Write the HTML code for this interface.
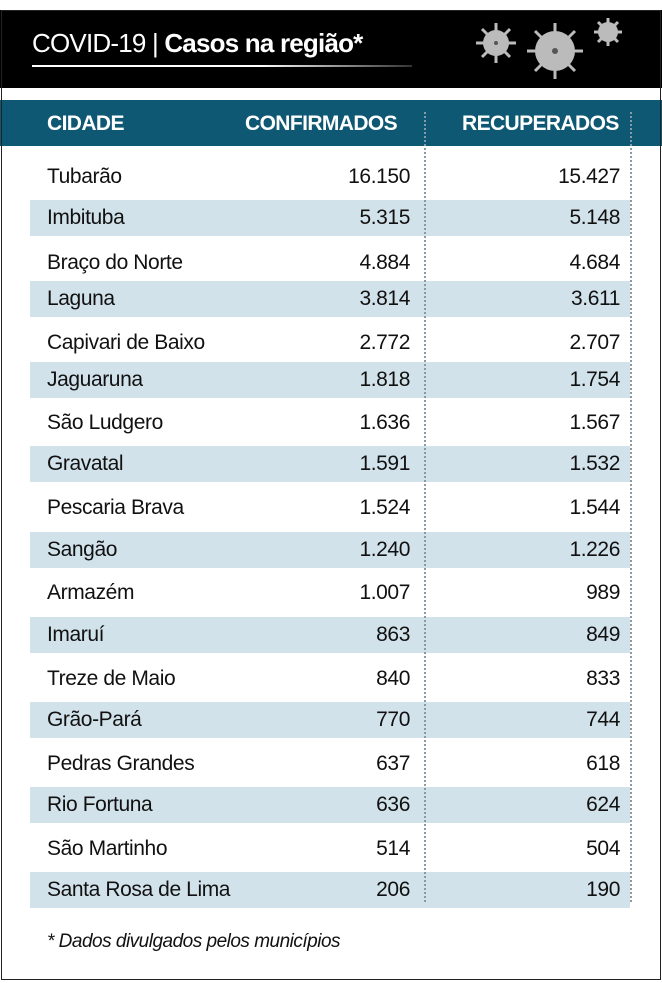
<!DOCTYPE html>
<html><head><meta charset="utf-8"><style>
body{margin:0;width:662px;height:983px;background:#fff;position:relative;font-family:"Liberation Sans",sans-serif;overflow:hidden}
.frame{position:absolute;left:1px;top:10px;width:658px;height:968px;border:1.5px solid #222}
.hdr{position:absolute;left:0;top:10px;width:662px;height:78px;background:#000}
.title{position:absolute;left:32px;top:28px;color:#fff;font-size:26px;letter-spacing:-0.8px}
.title b{font-weight:bold}
.uline{position:absolute;left:32px;top:65px;width:380px;height:2px;background:linear-gradient(90deg,#fff 60%,#333)}
.bar{position:absolute;left:0;top:100px;width:662px;height:46px;background:#0f5873}
.th{position:absolute;top:112px;color:#fff;font-weight:bold;font-size:21px;letter-spacing:-0.6px}
.row{position:absolute;left:30px;width:600px;height:36px}
.s{background:#d2e2eb}
.c{position:absolute;font-size:21px;color:#111;letter-spacing:-0.4px;line-height:36px;top:0}
.vl{position:absolute;top:112px;height:790px;border-left:2px dotted #8a9aa3;z-index:5}
.foot{position:absolute;left:47px;top:931px;font-size:19px;font-style:italic;color:#111;letter-spacing:-0.5px}
</style></head><body>
<div class="hdr"></div>
<div class="title">COVID-19 | <b>Casos na região*</b></div>
<div class="uline"></div>
<svg style="position:absolute;left:470px;top:15px" width="160" height="70">
<g fill="#bbb">
<circle cx="26" cy="28" r="13"/><circle cx="85" cy="36" r="20"/><circle cx="138" cy="17" r="10"/>
<g stroke="#bbb" stroke-width="3">
<path d="M26 8V48M6 28H46M12 14L40 42M40 14L12 42"/>
<path d="M85 8V64M57 36H113M65 16L105 56M105 16L65 56"/>
<path d="M138 3V31M124 17H152M128 7L148 27M148 7L128 27"/>
</g></g>
<g fill="#555"><circle cx="85" cy="36" r="3"/><circle cx="26" cy="28" r="2"/></g>
</svg>
<div class="bar"></div>
<div class="th" style="left:47px">CIDADE</div>
<div class="th" style="left:245px">CONFIRMADOS</div>
<div class="th" style="left:462px">RECUPERADOS</div>
<div class="foot">* Dados divulgados pelos municípios</div>
<div class="row" style="top:159px"><span class="c" style="left:17px">Tubarão</span><span class="c" style="right:220px">16.150</span><span class="c" style="right:10px">15.427</span></div>
<div class="row s" style="top:200px"><span class="c" style="left:17px">Imbituba</span><span class="c" style="right:220px">5.315</span><span class="c" style="right:10px">5.148</span></div>
<div class="row" style="top:245px"><span class="c" style="left:17px">Braço do Norte</span><span class="c" style="right:220px">4.884</span><span class="c" style="right:10px">4.684</span></div>
<div class="row s" style="top:281px"><span class="c" style="left:17px">Laguna</span><span class="c" style="right:220px">3.814</span><span class="c" style="right:10px">3.611</span></div>
<div class="row" style="top:325px"><span class="c" style="left:17px">Capivari de Baixo</span><span class="c" style="right:220px">2.772</span><span class="c" style="right:10px">2.707</span></div>
<div class="row s" style="top:362px"><span class="c" style="left:17px">Jaguaruna</span><span class="c" style="right:220px">1.818</span><span class="c" style="right:10px">1.754</span></div>
<div class="row" style="top:405px"><span class="c" style="left:17px">São Ludgero</span><span class="c" style="right:220px">1.636</span><span class="c" style="right:10px">1.567</span></div>
<div class="row s" style="top:446px"><span class="c" style="left:17px">Gravatal</span><span class="c" style="right:220px">1.591</span><span class="c" style="right:10px">1.532</span></div>
<div class="row" style="top:490px"><span class="c" style="left:17px">Pescaria Brava</span><span class="c" style="right:220px">1.524</span><span class="c" style="right:10px">1.544</span></div>
<div class="row s" style="top:532px"><span class="c" style="left:17px">Sangão</span><span class="c" style="right:220px">1.240</span><span class="c" style="right:10px">1.226</span></div>
<div class="row" style="top:575px"><span class="c" style="left:17px">Armazém</span><span class="c" style="right:220px">1.007</span><span class="c" style="right:10px">989</span></div>
<div class="row s" style="top:617px"><span class="c" style="left:17px">Imaruí</span><span class="c" style="right:220px">863</span><span class="c" style="right:10px">849</span></div>
<div class="row" style="top:661px"><span class="c" style="left:17px">Treze de Maio</span><span class="c" style="right:220px">840</span><span class="c" style="right:10px">833</span></div>
<div class="row s" style="top:702px"><span class="c" style="left:17px">Grão-Pará</span><span class="c" style="right:220px">770</span><span class="c" style="right:10px">744</span></div>
<div class="row" style="top:746px"><span class="c" style="left:17px">Pedras Grandes</span><span class="c" style="right:220px">637</span><span class="c" style="right:10px">618</span></div>
<div class="row s" style="top:787px"><span class="c" style="left:17px">Rio Fortuna</span><span class="c" style="right:220px">636</span><span class="c" style="right:10px">624</span></div>
<div class="row" style="top:831px"><span class="c" style="left:17px">São Martinho</span><span class="c" style="right:220px">514</span><span class="c" style="right:10px">504</span></div>
<div class="row s" style="top:872px"><span class="c" style="left:17px">Santa Rosa de Lima</span><span class="c" style="right:220px">206</span><span class="c" style="right:10px">190</span></div>
<div class="vl" style="left:424px"></div>
<div class="vl" style="left:630px"></div>
<div class="frame"></div>
</body></html>
